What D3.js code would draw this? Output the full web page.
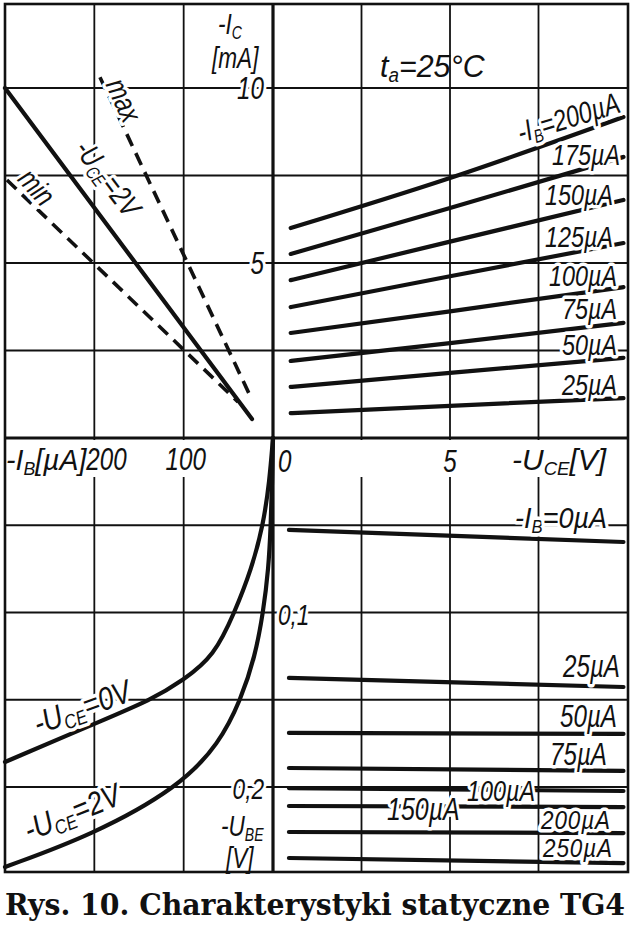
<!DOCTYPE html>
<html><head><meta charset="utf-8">
<script src="https://cdn.jsdelivr.net/npm/d3@7"></script>
<style>
body{margin:0;background:#fff}
svg text.lab{font-family:"Liberation Sans",Arial,sans-serif;font-style:italic;fill:#111}
.halo{paint-order:stroke;stroke:#fff;stroke-width:7px;stroke-linejoin:round}
</style></head><body><svg id="c" width="631" height="930"></svg>
<script>
// ---------- DATA ----------
// grid / tick values
const ibTicks = [100, 200];              // µA (left half)
const uceTicks = [2.5, 5, 7.5];          // V (right half)
const icTicks = [2.5, 5, 7.5, 10];       // mA (upper half)
const ubeTicks = [0.05, 0.1, 0.15, 0.2]; // V (lower half)

// Output characteristics  -Ic = f(-Uce), parameter -Ib
const outIb = [25, 50, 75, 100, 125, 150, 175, 200];
const outUce = [0.5, 5, 9.9];
const outIc = [
  [0.71, 0.92, 1.14],
  [1.46, 1.86, 2.29],
  [2.20, 2.71, 3.29],
  [3.00, 3.62, 4.31],
  [3.74, 4.62, 5.57],
  [4.51, 5.61, 6.80],
  [5.26, 6.57, 8.03],
  [6.00, 7.43, 9.17]
];

// Transfer characteristic  -Ic = f(-Ib) at -Uce = 2 V
const trTypIb = [300, 23.5], trTypIc = [10.0, 0.54];
const trMaxIb = [193.7, 23.5], trMaxIc = [10.31, 1.09];
const trMinIb = [297.8, 39.2], trMinIc = [7.37, 1.03];

// Input characteristics  -Ib = f(-Ube)
const in0Ube = [0, 0.025, 0.05, 0.075, 0.1, 0.125, 0.1387, 0.15, 0.1633, 0.1857];
const in0Ib  = [0, 4, 11, 24, 43, 66, 100, 136, 198, 300];
const in2Ube = [0, 0.025, 0.05, 0.075, 0.1, 0.125, 0.15, 0.175, 0.2, 0.2275, 0.2458];
const in2Ib  = [0, 1, 2.5, 5, 11, 20, 36, 60, 105, 202, 300];

// Feedback characteristics  -Ube = f(-Uce), parameter -Ib
const fbIb = [0, 25, 50, 75, 100, 150, 200, 250];
const fbUce = [0.45, 9.9];
const fbUbe = [
  [0.0527, 0.0596],
  [0.1375, 0.1427],
  [0.1690, 0.1696],
  [0.1891, 0.1908],
  [0.2006, 0.2023],
  [0.2109, 0.2115],
  [0.2258, 0.2264],
  [0.2407, 0.2436]
];

// ---------- LAYOUT ----------
const svg = d3.select("#c");
const F = {l: 5, r: 628, t: 4, b: 872};
const ox = 273, oy = 438;
const xIb  = d3.scaleLinear().domain([0, 300]).range([ox, F.l]);
const xUce = d3.scaleLinear().domain([0, 10]).range([ox, 627]);
const yIc  = d3.scaleLinear().domain([0, 10]).range([oy, 88]);
const yUbe = d3.scaleLinear().domain([0, 0.2]).range([oy, 787]);

svg.append("rect").attr("width", 631).attr("height", 930).attr("fill", "#fff");

const grid = svg.append("g").attr("stroke", "#111").attr("stroke-width", 1.8).attr("fill", "none");
ibTicks.forEach(v => grid.append("line").attr("x1", xIb(v)).attr("x2", xIb(v)).attr("y1", F.t).attr("y2", F.b));
uceTicks.forEach(v => grid.append("line").attr("x1", xUce(v)).attr("x2", xUce(v)).attr("y1", F.t).attr("y2", F.b));
icTicks.forEach(v => grid.append("line").attr("x1", F.l).attr("x2", F.r).attr("y1", yIc(v)).attr("y2", yIc(v)));
ubeTicks.forEach(v => grid.append("line").attr("x1", F.l).attr("x2", F.r).attr("y1", yUbe(v)).attr("y2", yUbe(v)));

// white strip for the axis-label row
svg.append("rect").attr("x", F.l + 2).attr("y", oy + 2).attr("width", F.r - F.l - 4).attr("height", 37).attr("fill", "#fff");

// frame + axes
svg.append("rect").attr("x", F.l).attr("y", F.t).attr("width", F.r - F.l).attr("height", F.b - F.t)
  .attr("fill", "none").attr("stroke", "#111").attr("stroke-width", 2.6);
svg.append("line").attr("x1", ox).attr("x2", ox).attr("y1", F.t).attr("y2", F.b).attr("stroke", "#111").attr("stroke-width", 3.2);
svg.append("line").attr("x1", F.l).attr("x2", F.r).attr("y1", oy).attr("y2", oy).attr("stroke", "#111").attr("stroke-width", 3.2);

// ---------- CURVES ----------
const curves = svg.append("g").attr("fill", "none").attr("stroke", "#111").attr("stroke-linecap", "round");

const outLine = d3.line().x(d => xUce(d[0])).y(d => yIc(d[1])).curve(d3.curveMonotoneX);
outIb.forEach((ib, i) => {
  curves.append("path").attr("d", outLine(outUce.map((u, j) => [u, outIc[i][j]]))).attr("stroke-width", 4.2);
});

const trLine = d3.line().x(d => xIb(d[0])).y(d => yIc(d[1]));
curves.append("path").attr("d", trLine(trTypIb.map((v, i) => [v, trTypIc[i]]))).attr("stroke-width", 4.2);
curves.append("path").attr("d", trLine(trMaxIb.map((v, i) => [v, trMaxIc[i]]))).attr("stroke-width", 3.6)
  .attr("stroke-dasharray", "13 8").attr("stroke-linecap", "butt");
curves.append("path").attr("d", trLine(trMinIb.map((v, i) => [v, trMinIc[i]]))).attr("stroke-width", 3.6)
  .attr("stroke-dasharray", "13 8").attr("stroke-linecap", "butt");

const inLine = d3.line().x(d => xIb(d[0])).y(d => yUbe(d[1])).curve(d3.curveBasis);
curves.append("path").attr("d", inLine(in0Ube.map((u, i) => [in0Ib[i], u]))).attr("stroke-width", 4.2);
curves.append("path").attr("d", inLine(in2Ube.map((u, i) => [in2Ib[i], u]))).attr("stroke-width", 4.2);

const fbLine = d3.line().x(d => xUce(d[0])).y(d => yUbe(d[1]));
fbIb.forEach((ib, i) => {
  curves.append("path").attr("d", fbLine(fbUce.map((u, j) => [u, fbUbe[i][j]]))).attr("stroke-width", 4.2);
});

// ---------- TEXT ----------
const T = svg.append("g");
// parts: strings, or {s:"..."} for a subscript
function rich(x, y, parts, o = {}) {
  const size = o.size || 30;
  const sx = o.sx || 0.78;
  const g = T.append("g").attr("transform", `translate(${x},${y}) rotate(${o.rot || 0}) scale(${sx},1)`);
  const t = g.append("text").attr("class", "lab" + (o.halo === false ? "" : " halo"))
    .attr("font-size", size).attr("text-anchor", o.anchor || "start");
  if (o.ls) t.attr("letter-spacing", o.ls);
  if (o.dy) t.attr("dy", o.dy);
  let shifted = false;
  const sh = size * 0.16;
  parts.forEach(p => {
    const sp = t.append("tspan");
    if (typeof p === "string") {
      sp.text(p);
      if (shifted) { sp.attr("dy", -sh); shifted = false; }
    } else {
      sp.text(p.s).attr("font-size", size * 0.62).attr("dy", sh);
      shifted = true;
    }
  });
  return t;
}

// axis titles and ticks
rich(218, 34, ["-I", {s: "C"}], {size: 29, halo: false});
rich(212, 68, ["[mA]"], {size: 29, halo: false});
rich(264, yIc(10) + 11, ["10"], {anchor: "end", size: 31});
rich(264, yIc(5) + 11, ["5"], {anchor: "end", size: 31});
rich(380, 77, ["t", {s: "a"}, "=25°C"], {size: 32, sx: 0.95, halo: false});

rich(6, 470, ["-I", {s: "B"}, "[µA]"], {size: 30, sx: 0.95, halo: false});
rich(xIb(200) - 8, 470, ["200"], {size: 31, halo: false});
rich(xIb(100) + 2, 470, ["100"], {anchor: "middle", size: 31, halo: false});
rich(ox + 5, 472, ["0"], {size: 31, halo: false});
rich(xUce(5), 472, ["5"], {anchor: "middle", size: 31, halo: false});
rich(512, 470, ["-U", {s: "CE"}, "[V]"], {size: 30, sx: 1.0, halo: false});

rich(ox + 5, yUbe(0.1) + 12, ["0,1"], {size: 29});
rich(264, yUbe(0.2) + 12, ["0,2"], {anchor: "end", size: 29});
rich(221, 836, ["-U", {s: "BE"}], {size: 29, halo: false});
rich(226, 868, ["[V]"], {size: 29, halo: false});

// output labels
rich(622, 112, ["-I", {s: "B"}, "=200µA"], {anchor: "end", size: 30, rot: -17});
const outLab = [["175µA", 620, 165], ["150µA", 613, 205], ["125µA", 613, 247], ["100µA", 617, 286],
                ["75µA", 617, 319], ["50µA", 617, 355], ["25µA", 617, 395]];
outLab.forEach(d => rich(d[1], d[2], [d[0]], {anchor: "end", size: 30}));

// transfer labels
rich(124, 100, ["max"], {anchor: "middle", size: 30, rot: 65, dy: "0.35em"});
rich(108, 178, ["-U", {s: "CE"}, "=2V"], {anchor: "middle", size: 30, rot: 53, dy: "0.35em"});
rich(37, 187, ["min"], {anchor: "middle", size: 30, rot: 48, dy: "0.35em"});

// input labels
rich(82, 707, ["-U", {s: "CE"}, "=0V"], {anchor: "middle", size: 32, sx: 0.85, rot: -20, dy: "0.35em"});
rich(72, 812, ["-U", {s: "CE"}, "=2V"], {anchor: "middle", size: 32, sx: 0.85, rot: -22, dy: "0.35em"});

// feedback labels
rich(607, 528, ["-I", {s: "B"}, "=0µA"], {anchor: "end", size: 30, sx: 0.9});
rich(620, 677, ["25µA"], {anchor: "end", size: 31});
rich(617, 727, ["50µA"], {anchor: "end", size: 31});
rich(607, 765, ["75µA"], {anchor: "end", size: 31});
rich(467, 801, ["100µA"], {size: 30});
rich(387, 820, ["150µA"], {size: 32});
rich(611, 829, ["200µA"], {anchor: "end", size: 25, sx: 0.9, ls: 1});
rich(613, 857, ["250µA"], {anchor: "end", size: 25, sx: 0.9, ls: 1});

// caption
svg.append("g").attr("transform", "translate(5,915) scale(1,1.1)")
  .append("text").attr("x", 0).attr("y", 0)
  .attr("textLength", 620).attr("lengthAdjust", "spacingAndGlyphs")
  .style("font-family", "'DejaVu Serif','Liberation Serif',serif").style("font-weight", "bold")
  .attr("fill", "#111").attr("font-size", 27).text("Rys. 10. Charakterystyki statyczne TG4");
</script></body></html>
